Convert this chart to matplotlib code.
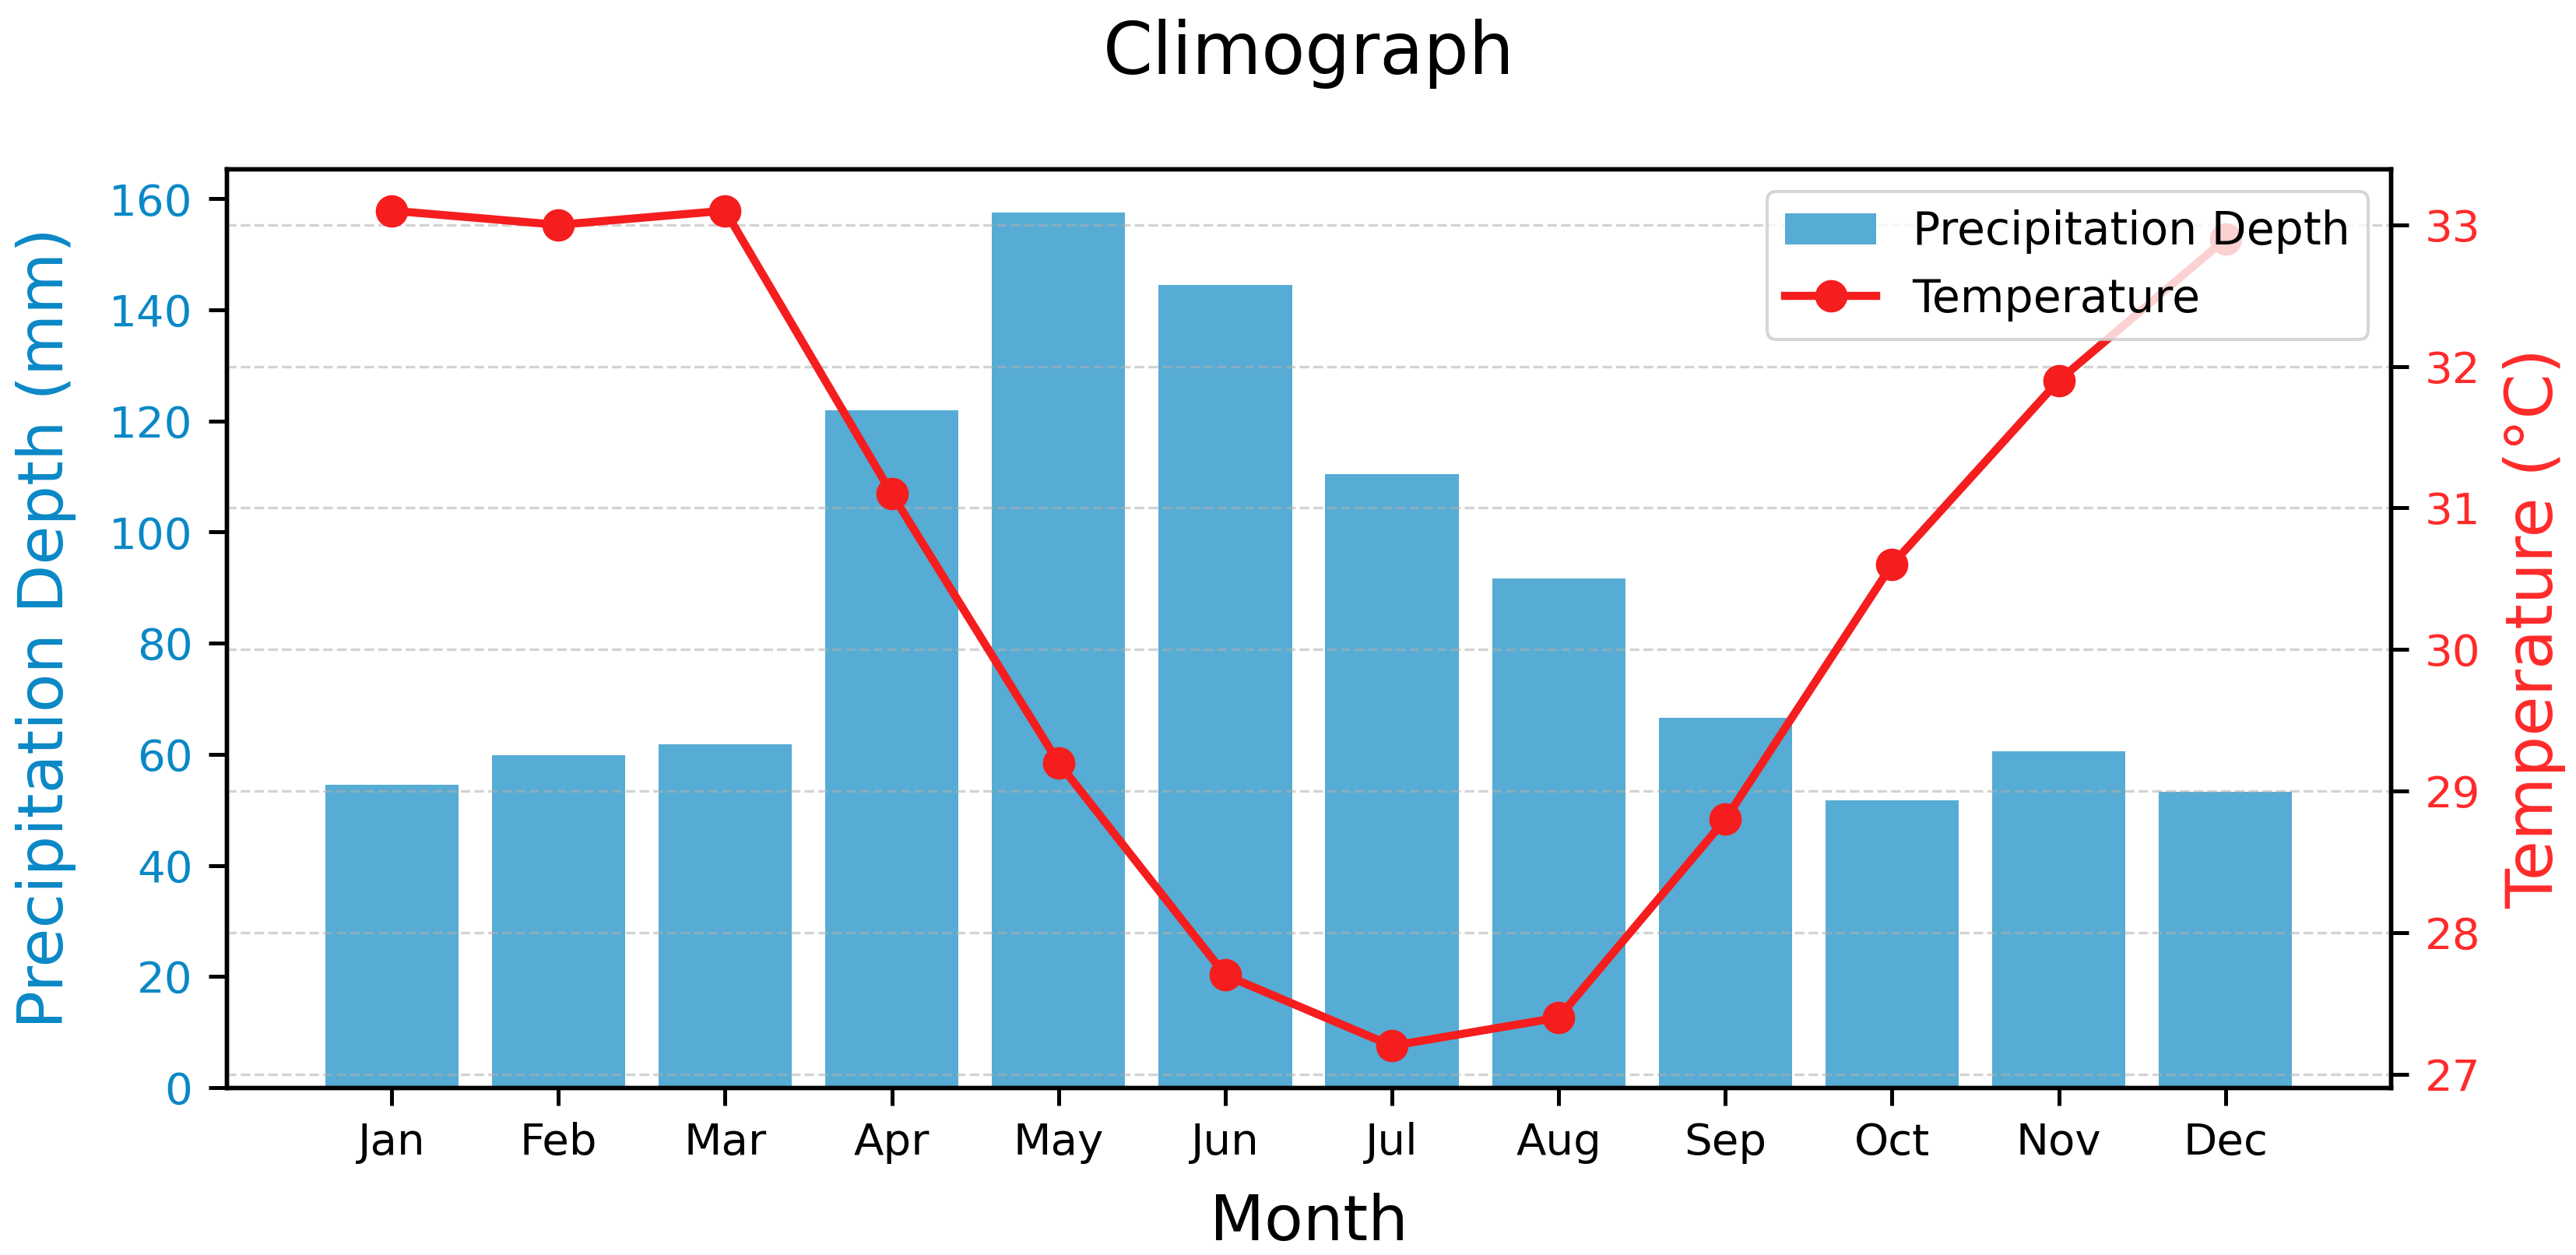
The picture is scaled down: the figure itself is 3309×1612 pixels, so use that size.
import matplotlib
matplotlib.use("Agg")
import matplotlib.pyplot as plt

months = ["Jan", "Feb", "Mar", "Apr", "May", "Jun", "Jul", "Aug", "Sep", "Oct", "Nov", "Dec"]
precip = [54.5, 59.8, 61.8, 121.9, 157.5, 144.5, 110.5, 91.6, 66.5, 51.7, 60.6, 53.3]
temp = [33.1, 33.0, 33.1, 31.1, 29.2, 27.7, 27.2, 27.4, 28.8, 30.6, 31.9, 32.9]

bar_color = "#56acd4"
blue_text = "#0a88c6"
line_color = "#f51d1d"
red_text = "#ff2a2a"

fig = plt.figure(figsize=(3309 / 300, 1612 / 300), dpi=300)
ax1 = fig.add_axes([0.088, 0.1334, 0.840, 0.732])
ax2 = ax1.twinx()

x = list(range(len(months)))
bars = ax1.bar(x, precip, width=0.8, color=bar_color, label="Precipitation Depth")
line, = ax2.plot(x, temp, color=line_color, linewidth=2.5, marker="o", markersize=9,
                 label="Temperature")

ax1.set_xticks(x)
ax1.set_xticklabels(months, fontsize=13.5)
ax1.set_xlabel("Month", fontsize=19.5, labelpad=9)
ax1.set_ylabel("Precipitation Depth (mm)", fontsize=19.5, color=blue_text, labelpad=10)
ax2.set_ylabel("Temperature (°C)", fontsize=20, color=red_text, labelpad=7)
ax1.tick_params(axis="both", length=5.5, width=1.2, pad=5)
ax2.tick_params(axis="y", length=5.5, width=1.2, pad=5)
ax1.tick_params(axis="y", labelcolor=blue_text, labelsize=13.5)
ax2.tick_params(axis="y", labelcolor=red_text, labelsize=13.5)

ax2.grid(True, linestyle="--", alpha=0.55)

for a in (ax1, ax2):
    for s in a.spines.values():
        s.set_linewidth(1.3)

ax2.legend([bars, line], ["Precipitation Depth", "Temperature"], loc="upper right",
           fontsize=14)

fig.suptitle("Climograph", fontsize=22, x=0.508, y=0.957, va="center")

fig.savefig("out.png", dpi=300)
